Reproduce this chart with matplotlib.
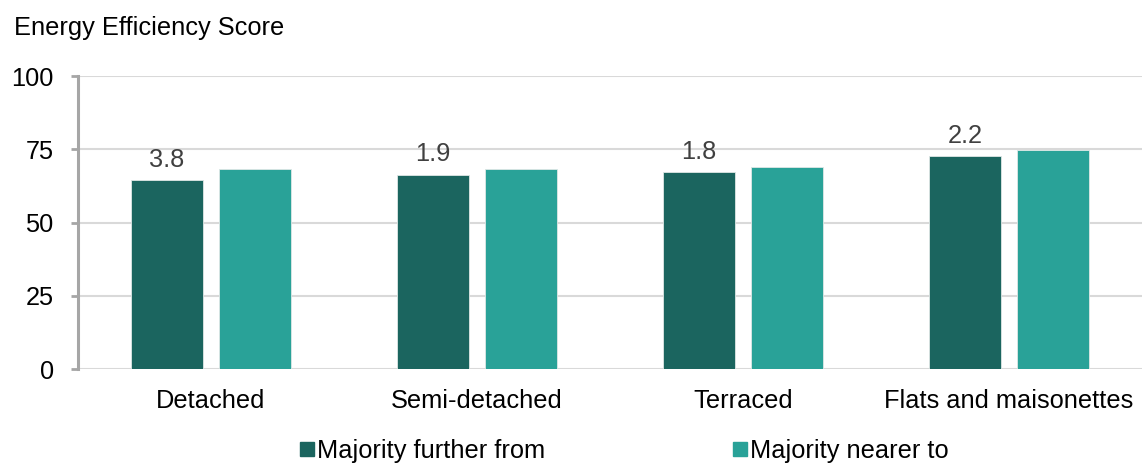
import matplotlib
matplotlib.use("Agg")
import matplotlib.pyplot as plt
from matplotlib.lines import Line2D
import numpy as np

plt.rcParams['font.family'] = ['Liberation Sans', 'DejaVu Sans']

categories = ["Detached", "Semi-detached", "Terraced", "Flats and maisonettes"]
further_from = [64.5, 66.4, 67.1, 72.6]
nearer_to = [68.3, 68.3, 68.9, 74.8]
differences = ["3.8", "1.9", "1.8", "2.2"]
series_names = ["Majority further from", "Majority nearer to"]
y_ticks = [0, 25, 50, 75, 100]

dark = "#1b655f"
light = "#29a298"
grid_col = "#d9d9d9"
axis_col = "#a6a6a6"
fs = 18.3

fig = plt.figure(figsize=(11.46, 4.66), dpi=100)
ax = fig.add_axes([78 / 1146, (466 - 369.3) / 466, 1064 / 1146, 293.3 / 466])

x = np.arange(len(categories))
w = 0.27
off = 0.166
ax.bar(x - off, further_from, width=w, color=dark, edgecolor="#dfe7e6", linewidth=0.6, zorder=3)
ax.bar(x + off, nearer_to, width=w, color=light, edgecolor="#dfe7e6", linewidth=0.6, zorder=3)

for xi, h, lab in zip(x - off, further_from, differences):
    ax.annotate(lab, (xi, h), xytext=(0, 6), textcoords="offset points",
                ha="center", va="bottom", fontsize=fs, color="#404040")

ax.set_xlim(-0.5, len(categories) - 0.5)
ax.set_ylim(0, 100)
ax.set_yticks(y_ticks)
ax.set_xticks(x)
ax.set_xticklabels(categories)
ax.grid(axis="y", color=grid_col, linewidth=1.5, zorder=0)
ax.set_axisbelow(True)

for s in ["top", "right", "bottom"]:
    ax.spines[s].set_visible(False)
ax.spines["left"].set_color(axis_col)
ax.spines["left"].set_linewidth(2.2)
ax.tick_params(axis="y", length=5, width=2, color=axis_col, pad=12.5, labelsize=fs, labelcolor="black")
ax.tick_params(axis="x", length=0, pad=14, labelsize=fs, labelcolor="black")

fig.text(14 / 1146, 1 - 28 / 466, "Energy Efficiency Score", fontsize=fs, ha="left", va="center")

handles = [Line2D([], [], marker="s", linestyle="", markersize=9.5, color=c) for c in (dark, light)]
fig.legend(handles, series_names, loc="center", bbox_to_anchor=(624 / 1146, 1 - 451 / 466),
           ncol=2, frameon=False, fontsize=fs, handletextpad=0.12, columnspacing=7.4,
           handlelength=0.55, borderaxespad=0, borderpad=0)

fig.savefig("out.png", dpi=100)
